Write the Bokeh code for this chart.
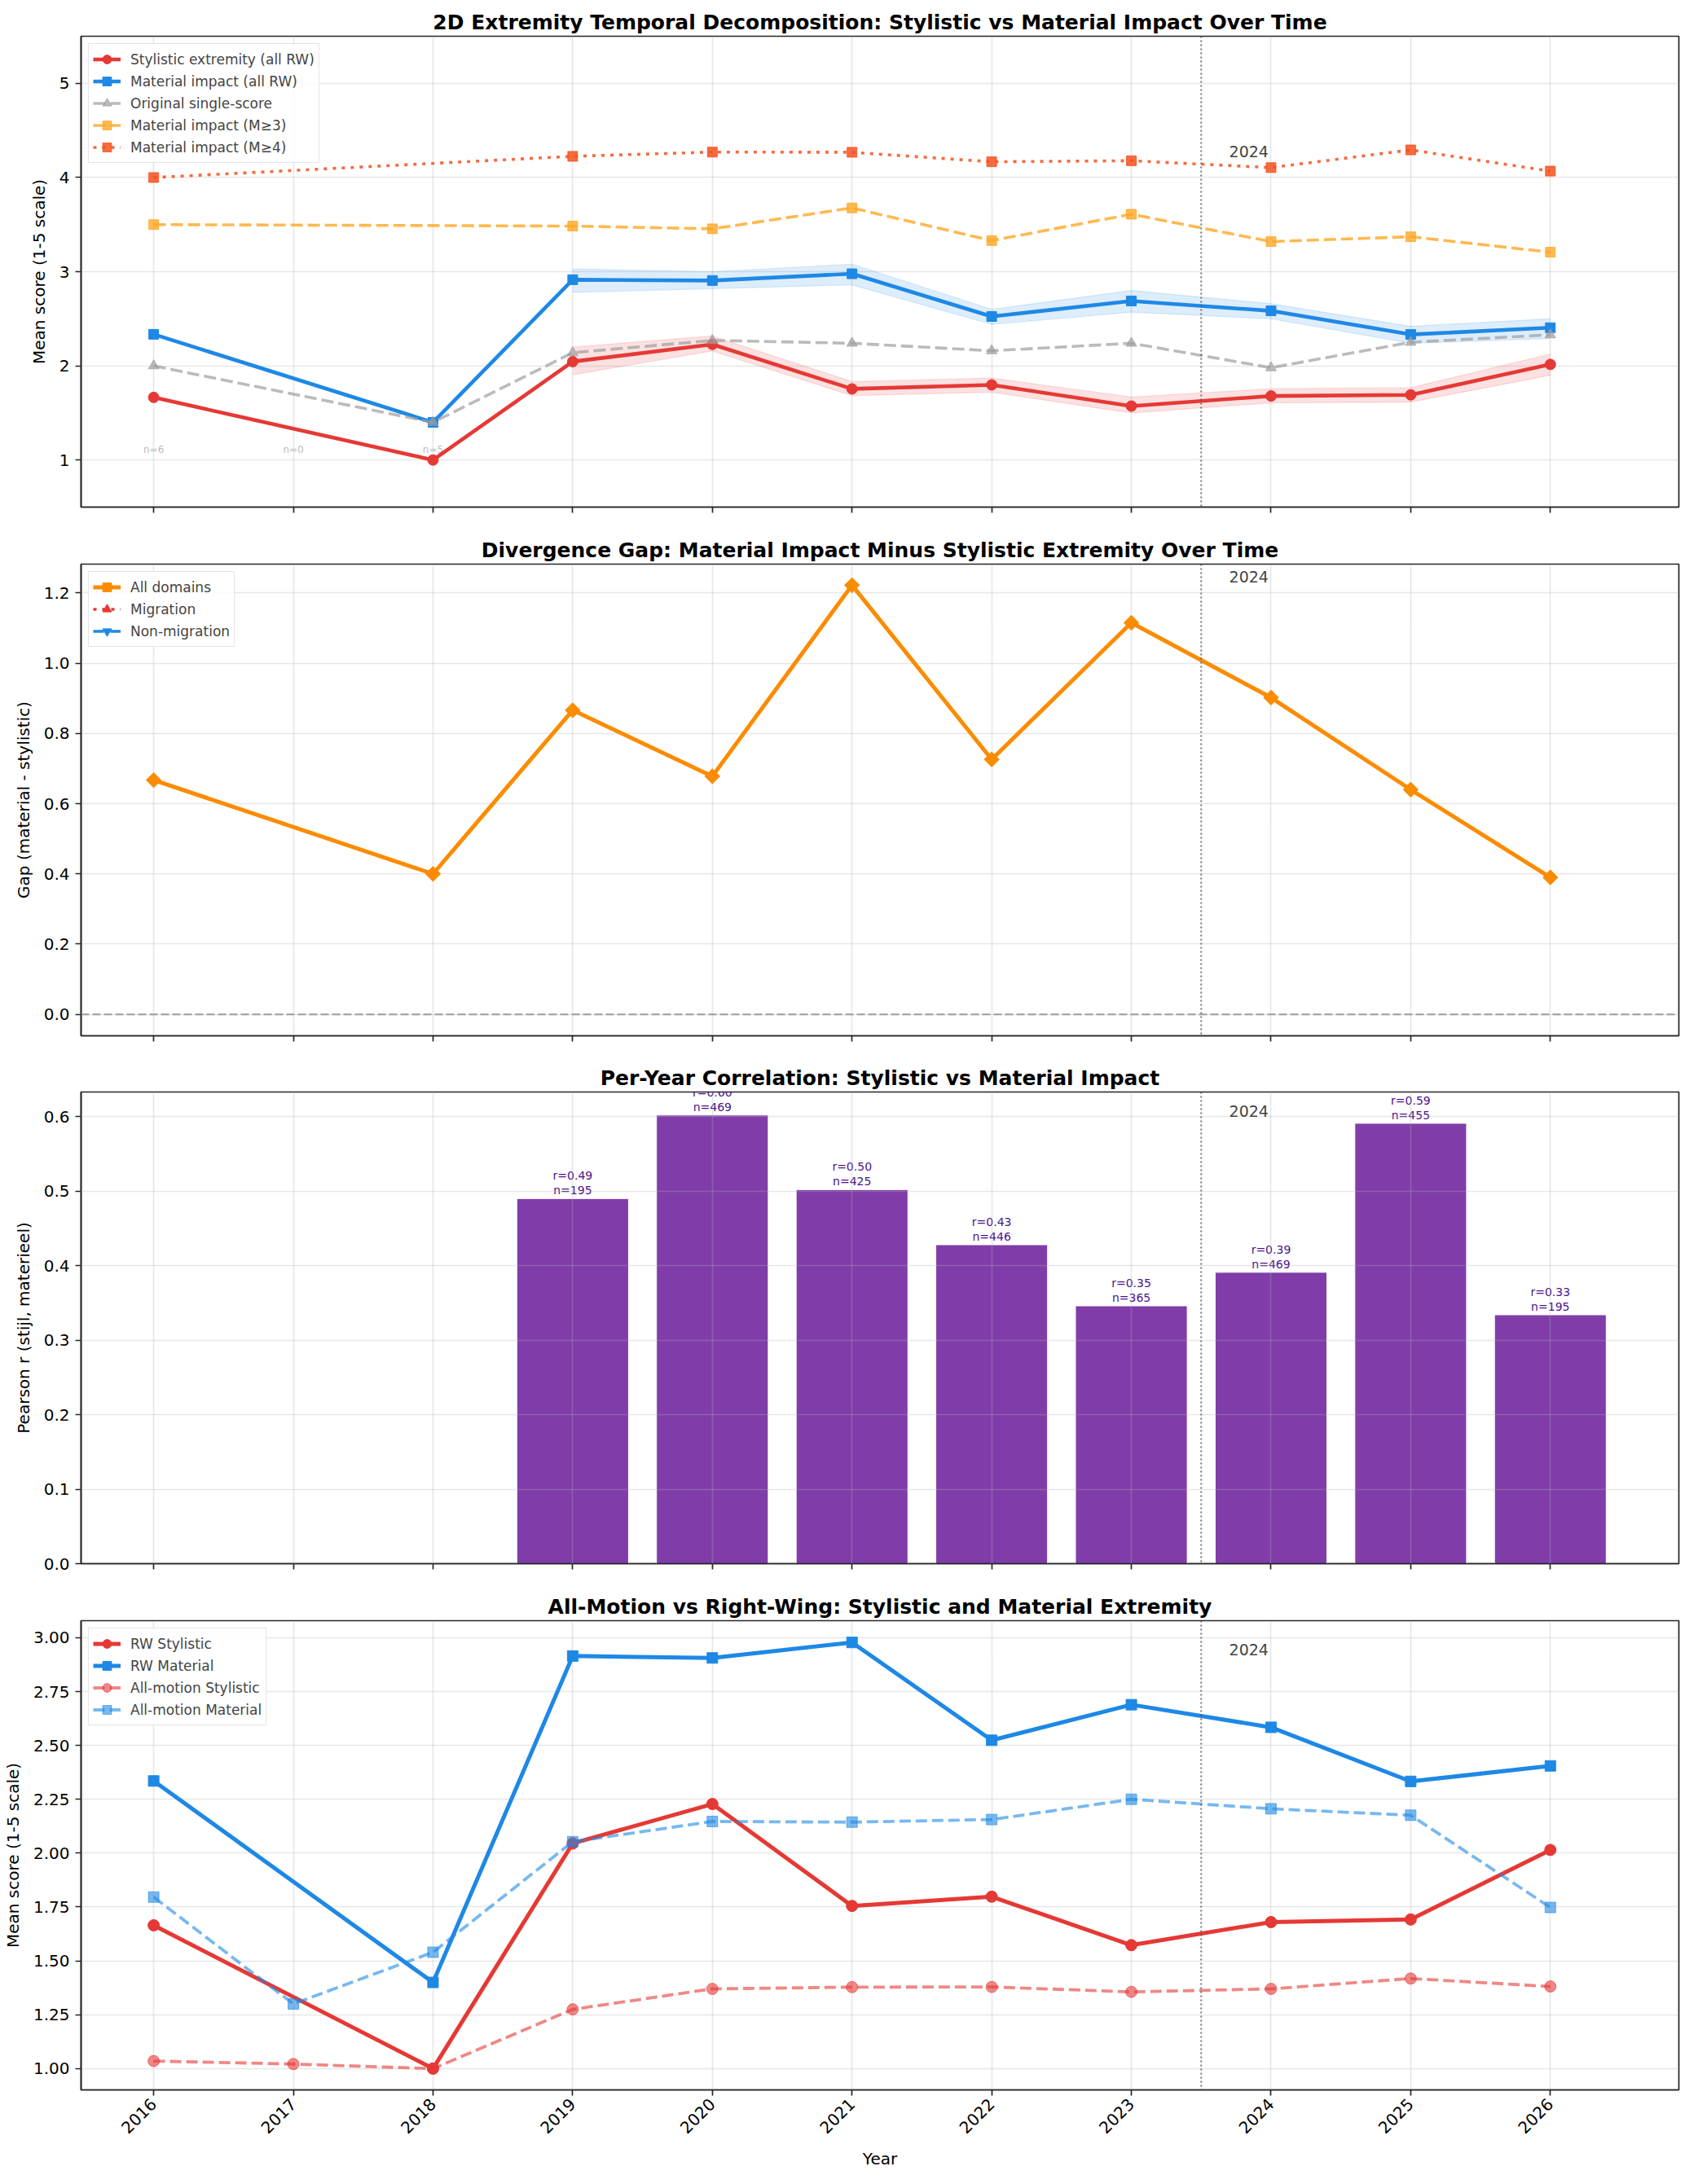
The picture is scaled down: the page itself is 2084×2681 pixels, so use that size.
import math
from bokeh.plotting import figure
from bokeh.layouts import column
from bokeh.models import Range1d, FixedTicker, Span, Label, PrintfTickFormatter
from bokeh.embed import file_html
from bokeh.resources import INLINE
from bokeh.core.properties import value

NaN = float("nan")

# ---------------- data ----------------
years = [2016, 2017, 2018, 2019, 2020, 2021, 2022, 2023, 2024, 2025, 2026]

# Panel 1 / Panel 4 (right-wing)
rw_years = [2016, 2018, 2019, 2020, 2021, 2022, 2023, 2024, 2025, 2026]
rw_stylistic = [1.665, 1.00, 2.045, 2.228, 1.755, 1.798, 1.573, 1.680, 1.692, 2.015]
rw_material = [2.335, 1.400, 2.915, 2.906, 2.978, 2.524, 2.689, 2.584, 2.333, 2.405]
original_single = [2.00, 1.40, 2.14, 2.27, 2.24, 2.16, 2.24, 1.98, 2.25, 2.33]

high_years = [2016, 2019, 2020, 2021, 2022, 2023, 2024, 2025, 2026]
material_m3 = [3.50, 3.484, 3.455, 3.677, 3.330, 3.610, 3.320, 3.371, 3.207]
material_m4 = [4.00, 4.225, 4.270, 4.268, 4.167, 4.178, 4.105, 4.293, 4.068]

band_years = [2019, 2020, 2021, 2022, 2023, 2024, 2025, 2026]
stylistic_lo = [1.905, 2.158, 1.683, 1.720, 1.500, 1.607, 1.614, 1.900]
stylistic_hi = [2.200, 2.317, 1.833, 1.870, 1.670, 1.757, 1.768, 2.125]
material_lo = [2.780, 2.820, 2.860, 2.440, 2.570, 2.500, 2.240, 2.290]
material_hi = [3.030, 3.000, 3.080, 2.600, 2.800, 2.660, 2.420, 2.500]

n_label_years = [2016, 2017, 2018]
n_label_y = [1.11, 1.11, 1.11]
n_labels = ["n=6", "n=0", "n=5"]

# Panel 2
gap_years = [2016, 2018, 2019, 2020, 2021, 2022, 2023, 2024, 2025, 2026]
gap_all = [0.667, 0.400, 0.866, 0.678, 1.222, 0.726, 1.115, 0.902, 0.640, 0.390]
gap_migration = [NaN, NaN, NaN, NaN, NaN, NaN, NaN, NaN, NaN, NaN]
gap_nonmig = [NaN, NaN, NaN, NaN, NaN, NaN, NaN, NaN, NaN, NaN]

# Panel 3
corr_years = [2019, 2020, 2021, 2022, 2023, 2024, 2025, 2026]
corr_r = [0.490, 0.602, 0.502, 0.428, 0.346, 0.391, 0.591, 0.334]
corr_n = [195, 469, 425, 446, 365, 469, 455, 195]

# Panel 4 (all motions)
allmotion_stylistic = [1.035, 1.021, 1.000, 1.275, 1.370, 1.378, 1.379, 1.356, 1.370, 1.418, 1.381]
allmotion_material = [1.796, 1.300, 1.540, 2.053, 2.147, 2.144, 2.156, 2.250, 2.206, 2.176, 1.748]

# ---------------- style ----------------
FONT = "DejaVu Sans"
RED = "#E53935"
BLUE = "#1E88E5"
GRAY = "#9E9E9E"
ORANGE3 = "#FFA726"
ORANGE4 = "#F4511E"
GAPC = "#FB8C00"
PURPLE = "#6A1B9A"
DARKP = "#4A148C"
SPINE = "#262626"

XR = (2015.48, 2026.92)
W = 2068


def make_fig(title, height, top, bottom, y0, y1, yticks, fmt, ylabel, xlabels):
    p = figure(width=W, height=height, output_backend="svg", toolbar_location=None,
               x_range=Range1d(*XR), y_range=Range1d(y0, y1),
               min_border_left=98, min_border_right=8,
               min_border_top=top, min_border_bottom=bottom)
    p.title.text = title
    p.title.text_font = FONT
    p.title.text_font_size = "25px"
    p.title.text_font_style = "bold"
    p.title.text_color = "black"
    p.title.align = "center"
    p.title.standoff = 6
    p.outline_line_color = SPINE
    p.outline_line_width = 1.7
    p.background_fill_color = "white"
    p.border_fill_color = "white"
    p.xaxis.ticker = FixedTicker(ticks=years)
    p.xgrid.ticker = FixedTicker(ticks=years)
    p.yaxis.ticker = FixedTicker(ticks=yticks)
    p.ygrid.ticker = FixedTicker(ticks=yticks)
    p.yaxis.formatter = PrintfTickFormatter(format=fmt)
    for g in (p.xgrid, p.ygrid):
        g.grid_line_color = "#b0b0b0"
        g.grid_line_alpha = 0.3
        g.grid_line_width = 1.6
    for ax in (p.xaxis, p.yaxis):
        ax.axis_line_color = SPINE
        ax.axis_line_width = 1.7
        ax.major_tick_line_color = SPINE
        ax.major_tick_line_width = 1.7
        ax.major_tick_out = 7
        ax.major_tick_in = 0
        ax.minor_tick_line_color = None
        ax.major_label_text_font = FONT
        ax.major_label_text_font_size = "20px"
        ax.major_label_text_color = "black"
        ax.major_label_standoff = 7
        ax.axis_label_text_font = FONT
        ax.axis_label_text_font_size = "20px"
        ax.axis_label_text_font_style = "normal"
        ax.axis_label_text_color = "black"
        ax.axis_label_standoff = 10
    p.yaxis.axis_label = ylabel
    if xlabels:
        p.xaxis.axis_label = "Year"
        p.xaxis.major_label_orientation = math.pi / 4
    else:
        p.xaxis.major_label_overrides = {y: "" for y in years}
    p.add_layout(Span(location=2023.5, dimension="height", line_color="#555555",
                      line_alpha=0.8, line_width=2, line_dash="2 3"))
    return p


def style_legend(p):
    lg = p.legend[0]
    lg.location = "top_left"
    lg.label_text_font = FONT
    lg.label_text_font_size = "17px"
    lg.label_height = 20
    lg.glyph_height = 27
    lg.glyph_width = 34
    lg.spacing = 0
    lg.padding = 5
    lg.margin = 9
    lg.label_standoff = 12
    lg.border_line_color = "#cccccc"
    lg.border_line_width = 1.5
    lg.background_fill_alpha = 0.85


def year_label(p, y):
    p.add_layout(Label(x=2023.7, y=y, text="2024", text_font=FONT, text_font_size="19px",
                       text_color="#444444", text_baseline="middle"))


# ---------------- panel 1 ----------------
p1 = make_fig("2D Extremity Temporal Decomposition: Stylistic vs Material Impact Over Time",
              653, 44, 31, 0.5, 5.5, [1, 2, 3, 4, 5], "%d", "Mean score (1-5 scale)", False)
p1.text(n_label_years, n_label_y, text=n_labels, text_font=value(FONT), text_font_size="12px",
        text_color="#bbbbbb", text_align="center", text_baseline="middle")
p1.varea(x=band_years, y1=stylistic_lo, y2=stylistic_hi, fill_color=RED, fill_alpha=0.15)
p1.line(band_years, stylistic_lo, line_color=RED, line_alpha=0.15, line_width=1.2)
p1.line(band_years, stylistic_hi, line_color=RED, line_alpha=0.15, line_width=1.2)
p1.varea(x=band_years, y1=material_lo, y2=material_hi, fill_color=BLUE, fill_alpha=0.15)
p1.line(band_years, material_lo, line_color=BLUE, line_alpha=0.15, line_width=1.2)
p1.line(band_years, material_hi, line_color=BLUE, line_alpha=0.15, line_width=1.2)

lab = "Stylistic extremity (all RW)"
p1.line(rw_years, rw_stylistic, line_color=RED, line_width=4.6, legend_label=lab)
p1.scatter(rw_years, rw_stylistic, marker="circle", size=13, color=RED, legend_label=lab)
lab = "Material impact (all RW)"
p1.line(rw_years, rw_material, line_color=BLUE, line_width=4.6, legend_label=lab)
p1.scatter(rw_years, rw_material, marker="square", size=12, color=BLUE, legend_label=lab)
lab = "Original single-score"
p1.line(rw_years, original_single, line_color=GRAY, line_alpha=0.7, line_width=3.6,
        line_dash="15 6", legend_label=lab)
p1.scatter(rw_years, original_single, marker="triangle", size=13, color=GRAY, alpha=0.7,
           legend_label=lab)
lab = "Material impact (M\u22653)"
p1.line(high_years, material_m3, line_color=ORANGE3, line_alpha=0.8, line_width=3.6,
        line_dash="15 6", legend_label=lab)
p1.scatter(high_years, material_m3, marker="square", size=12, color=ORANGE3, alpha=0.8,
           legend_label=lab)
lab = "Material impact (M\u22654)"
p1.line(high_years, material_m4, line_color=ORANGE4, line_alpha=0.85, line_width=3.6,
        line_dash="4 7", legend_label=lab)
p1.scatter(high_years, material_m4, marker="square", size=12, color=ORANGE4, alpha=0.85,
           legend_label=lab)
year_label(p1, 4.28)
style_legend(p1)

# ---------------- panel 2 ----------------
p2 = make_fig("Divergence Gap: Material Impact Minus Stylistic Extremity Over Time",
              647, 39, 29, -0.061, 1.282, [0.0, 0.2, 0.4, 0.6, 0.8, 1.0, 1.2], "%.1f",
              "Gap (material - stylistic)", False)
p2.add_layout(Span(location=0, dimension="width", line_color="#888888", line_alpha=0.8,
                   line_width=2, line_dash="10 4"))
lab = "All domains"
p2.line(gap_years, gap_all, line_color=GAPC, line_width=5, legend_label=lab)
p2.scatter(gap_years, gap_all, marker="square", angle=math.pi / 4, size=13, color=GAPC,
           legend_label=lab)
lab = "Migration"
p2.line(gap_years, gap_migration, line_color=RED, line_width=3.6, line_dash="4 7",
        legend_label=lab)
p2.scatter(gap_years, gap_migration, marker="triangle", size=14, color=RED,
           legend_label=lab)
lab = "Non-migration"
p2.line(gap_years, gap_nonmig, line_color=BLUE, line_width=3.6, line_dash="13 3 2 3",
        legend_label=lab)
p2.scatter(gap_years, gap_nonmig, marker="inverted_triangle", size=14, color=BLUE,
           legend_label=lab)
year_label(p2, 1.245)
style_legend(p2)

# ---------------- panel 3 ----------------
p3 = make_fig("Per-Year Correlation: Stylistic vs Material Impact",
              648, 40, 29, 0.0, 0.633, [0.0, 0.1, 0.2, 0.3, 0.4, 0.5, 0.6], "%.1f",
              "Pearson r (stijl, materieel)", False)
p3.ygrid.level = "guide"
p3.xgrid.level = "guide"
p3.vbar(x=corr_years, top=corr_r, width=0.8, fill_color=PURPLE, fill_alpha=0.85,
        line_color="white", line_width=1)
corr_text = ["r=%.2f\nn=%d" % (r, n) for r, n in zip(corr_r, corr_n)]
p3.text(corr_years, [r + 0.002 for r in corr_r], text=corr_text, text_font=value(FONT),
        text_font_size="14px", text_color=DARKP, text_align="center",
        text_baseline="bottom", text_line_height=1.15)
year_label(p3, 0.607)

# ---------------- panel 4 ----------------
p4 = make_fig("All-Motion vs Right-Wing: Stylistic and Material Extremity",
              717, 41, 98, 0.901, 3.079, [1.0, 1.25, 1.5, 1.75, 2.0, 2.25, 2.5, 2.75, 3.0],
              "%.2f", "Mean score (1-5 scale)", True)
lab = "RW Stylistic"
p4.line(rw_years, rw_stylistic, line_color=RED, line_width=5, legend_label=lab)
p4.scatter(rw_years, rw_stylistic, marker="circle", size=14, color=RED, legend_label=lab)
lab = "RW Material"
p4.line(rw_years, rw_material, line_color=BLUE, line_width=5, legend_label=lab)
p4.scatter(rw_years, rw_material, marker="square", size=13, color=BLUE, legend_label=lab)
lab = "All-motion Stylistic"
p4.line(years, allmotion_stylistic, line_color=RED, line_alpha=0.6, line_width=3.8,
        line_dash="14 6", legend_label=lab)
p4.scatter(years, allmotion_stylistic, marker="circle", size=14, color=RED, alpha=0.6,
           legend_label=lab)
lab = "All-motion Material"
p4.line(years, allmotion_material, line_color=BLUE, line_alpha=0.6, line_width=3.8,
        line_dash="14 6", legend_label=lab)
p4.scatter(years, allmotion_material, marker="square", size=13, color=BLUE, alpha=0.6,
           legend_label=lab)
year_label(p4, 2.945)
style_legend(p4)

layout = column(p1, p2, p3, p4, spacing=0)
open("out.html", "w").write(file_html(layout, INLINE))
